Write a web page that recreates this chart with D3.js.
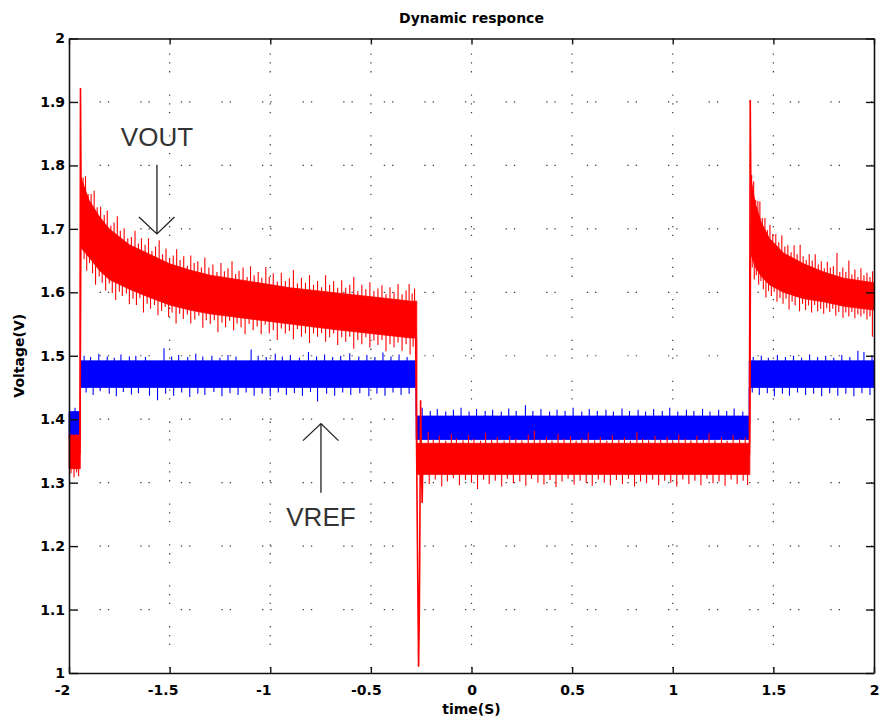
<!DOCTYPE html>
<html><head><meta charset="utf-8">
<script src="https://cdn.jsdelivr.net/npm/d3@7"></script>
<style>body{margin:0;background:#fff}</style>
</head><body>
<svg id="c" width="882" height="722"></svg>
<script>
// ---------- tick labels ----------
const xTicks = [-2, -1.5, -1, -0.5, 0, 0.5, 1, 1.5, 2];
const xTickLabels = ["-2", "-1.5", "-1", "-0.5", "0", "0.5", "1", "1.5", "2"];
const yTicks = [1, 1.1, 1.2, 1.3, 1.4, 1.5, 1.6, 1.7, 1.8, 1.9, 2];
const yTickLabels = ["1", "1.1", "1.2", "1.3", "1.4", "1.5", "1.6", "1.7", "1.8", "1.9", "2"];

// ---------- VREF (blue): noise band envelope ----------
const vrefT  = [-2, -1.943, -1.943, -0.275, -0.275, 1.380, 1.380, 2];
const vrefLo = [1.370, 1.370, 1.450, 1.450, 1.368, 1.368, 1.450, 1.450];
const vrefHi = [1.412, 1.412, 1.492, 1.492, 1.405, 1.405, 1.492, 1.492];
// VREF noise spikes [time, voltage]
const vrefSpikes = [
  [-1.97,1.418],
  [-1.925,1.500],[-1.893,1.498],[-1.852,1.503],[-1.81,1.499],[-1.775,1.497],[-1.742,1.502],[-1.70,1.499],[-1.668,1.500],[-1.62,1.498],[-1.528,1.512],[-1.49,1.499],[-1.455,1.501],[-1.41,1.498],[-1.37,1.503],[-1.335,1.499],[-1.29,1.500],[-1.25,1.497],[-1.21,1.501],[-1.17,1.499],[-1.095,1.510],[-1.06,1.500],[-1.02,1.498],[-0.975,1.503],[-0.94,1.499],[-0.9,1.501],[-0.855,1.497],[-0.81,1.506],[-0.77,1.499],[-0.73,1.502],[-0.69,1.498],[-0.65,1.500],[-0.605,1.504],[-0.56,1.499],[-0.52,1.501],[-0.48,1.498],[-0.44,1.505],[-0.40,1.499],[-0.36,1.502],[-0.32,1.498],
  [-1.915,1.442],[-1.88,1.438],[-1.845,1.444],[-1.80,1.440],[-1.765,1.436],[-1.73,1.443],[-1.69,1.439],[-1.655,1.441],[-1.60,1.437],[-1.56,1.430],[-1.52,1.440],[-1.48,1.437],[-1.44,1.442],[-1.40,1.435],[-1.36,1.440],[-1.325,1.438],[-1.28,1.443],[-1.24,1.436],[-1.20,1.441],[-1.16,1.438],[-1.12,1.442],[-1.08,1.437],[-1.04,1.440],[-1.0,1.436],[-0.96,1.442],[-0.92,1.438],[-0.88,1.441],[-0.84,1.437],[-0.80,1.443],[-0.765,1.428],[-0.72,1.440],[-0.68,1.437],[-0.64,1.442],[-0.60,1.438],[-0.555,1.441],[-0.51,1.436],[-0.47,1.440],[-0.43,1.437],[-0.39,1.442],[-0.35,1.438],[-0.31,1.440],
  [-0.245,1.418],[-0.205,1.413],[-0.17,1.416],[-0.128,1.412],[-0.09,1.415],[-0.052,1.418],[-0.012,1.412],[0.025,1.416],[0.068,1.413],[0.105,1.415],[0.148,1.412],[0.185,1.417],[0.222,1.413],[0.268,1.422],[0.305,1.413],[0.345,1.416],[0.388,1.412],[0.425,1.415],[0.465,1.413],[0.505,1.418],[0.548,1.412],[0.585,1.416],[0.625,1.413],[0.668,1.415],[0.705,1.412],[0.748,1.417],[0.785,1.413],[0.828,1.415],[0.865,1.412],[0.905,1.416],[0.948,1.413],[0.985,1.418],[1.025,1.412],[1.068,1.415],[1.105,1.413],[1.148,1.416],[1.185,1.412],[1.228,1.415],[1.268,1.413],[1.305,1.417],[1.348,1.412],
  [1.40,1.498],[1.44,1.500],[1.475,1.497],[1.52,1.501],[1.56,1.498],[1.60,1.500],[1.64,1.497],[1.68,1.502],[1.72,1.498],[1.76,1.500],[1.80,1.497],[1.84,1.501],[1.88,1.498],[1.92,1.508],[1.95,1.506],[1.99,1.499],
  [1.395,1.442],[1.43,1.438],[1.47,1.441],[1.505,1.436],[1.545,1.440],[1.58,1.437],[1.62,1.442],[1.66,1.438],[1.70,1.440],[1.74,1.436],[1.78,1.441],[1.82,1.437],[1.86,1.440],[1.90,1.436],[1.94,1.441],[1.98,1.438]
];

// ---------- VOUT (red): noise band envelope ----------
const voutT  = [-2, -1.944, -1.940, -1.9, -1.85, -1.8, -1.7, -1.6, -1.5, -1.4, -1.3, -1.1, -0.9, -0.7, -0.5, -0.3, -0.272, -0.272, 1.383, 1.388, 1.41, 1.44, 1.48, 1.55, 1.65, 1.75, 1.85, 2.0];
const voutLo = [1.322, 1.322, 1.67, 1.655, 1.635, 1.62, 1.605, 1.592, 1.58, 1.572, 1.566, 1.558, 1.55, 1.542, 1.535, 1.528, 1.528, 1.313, 1.313, 1.66, 1.64, 1.625, 1.612, 1.60, 1.59, 1.585, 1.578, 1.572];
const voutHi = [1.375, 1.375, 1.78, 1.745, 1.72, 1.70, 1.675, 1.66, 1.645, 1.635, 1.627, 1.617, 1.607, 1.60, 1.593, 1.586, 1.586, 1.362, 1.362, 1.78, 1.74, 1.71, 1.685, 1.662, 1.645, 1.632, 1.622, 1.615];
// VOUT noise spikes [time, voltage]
const voutSpikes = [
  [-1.99,1.315],[-1.975,1.308],[-1.962,1.316],[-1.952,1.310],
  // decay 1, upper edge
  [-1.93,1.781],[-1.918,1.783],[-1.905,1.755],[-1.89,1.755],[-1.875,1.760],[-1.86,1.734],[-1.843,1.735],[-1.825,1.722],[-1.81,1.729],[-1.792,1.705],[-1.776,1.710],[-1.76,1.720],[-1.745,1.697],[-1.726,1.701],[-1.708,1.685],[-1.69,1.687],[-1.672,1.697],[-1.655,1.677],[-1.64,1.685],[-1.622,1.675],[-1.605,1.685],[-1.588,1.665],[-1.57,1.672],[-1.552,1.682],[-1.535,1.660],[-1.518,1.669],[-1.50,1.653],[-1.482,1.658],[-1.465,1.668],[-1.448,1.651],[-1.43,1.657],[-1.412,1.642],[-1.395,1.658],[-1.378,1.646],[-1.36,1.649],[-1.342,1.639],[-1.325,1.655],[-1.305,1.639],[-1.285,1.644],[-1.265,1.632],[-1.245,1.646],[-1.228,1.633],[-1.21,1.638],[-1.19,1.649],[-1.172,1.629],[-1.155,1.634],[-1.135,1.639],[-1.115,1.624],[-1.098,1.641],[-1.08,1.627],[-1.06,1.632],[-1.042,1.623],[-1.022,1.640],[-1.005,1.624],[-0.985,1.630],[-0.965,1.617],[-0.945,1.631],[-0.925,1.618],[-0.905,1.622],[-0.885,1.635],[-0.865,1.614],[-0.845,1.623],[-0.825,1.615],[-0.805,1.627],[-0.785,1.612],[-0.765,1.618],[-0.745,1.608],[-0.725,1.627],[-0.705,1.612],[-0.685,1.618],[-0.665,1.607],[-0.645,1.619],[-0.625,1.607],[-0.605,1.612],[-0.585,1.624],[-0.565,1.602],[-0.545,1.612],[-0.525,1.605],[-0.505,1.616],[-0.485,1.602],[-0.465,1.606],[-0.445,1.611],[-0.425,1.597],[-0.405,1.608],[-0.385,1.600],[-0.365,1.613],[-0.345,1.597],[-0.325,1.603],[-0.31,1.613],[-0.295,1.598],[-0.283,1.606],
  // decay 1, lower edge
  [-1.925,1.652],[-1.912,1.634],[-1.898,1.646],[-1.883,1.630],[-1.868,1.612],[-1.85,1.625],[-1.835,1.615],[-1.818,1.603],[-1.80,1.614],[-1.785,1.599],[-1.768,1.588],[-1.75,1.601],[-1.735,1.594],[-1.715,1.598],[-1.70,1.581],[-1.682,1.590],[-1.665,1.580],[-1.648,1.591],[-1.63,1.568],[-1.612,1.582],[-1.595,1.574],[-1.575,1.580],[-1.558,1.564],[-1.54,1.571],[-1.522,1.577],[-1.505,1.561],[-1.488,1.568],[-1.468,1.551],[-1.45,1.566],[-1.432,1.558],[-1.412,1.565],[-1.395,1.551],[-1.375,1.557],[-1.355,1.563],[-1.335,1.544],[-1.318,1.556],[-1.298,1.550],[-1.278,1.556],[-1.26,1.537],[-1.24,1.552],[-1.222,1.545],[-1.202,1.555],[-1.182,1.540],[-1.165,1.551],[-1.145,1.545],[-1.125,1.534],[-1.105,1.550],[-1.085,1.540],[-1.065,1.546],[-1.045,1.534],[-1.025,1.549],[-1.005,1.535],[-0.985,1.540],[-0.965,1.525],[-0.945,1.543],[-0.925,1.535],[-0.905,1.539],[-0.885,1.526],[-0.865,1.542],[-0.845,1.530],[-0.825,1.535],[-0.805,1.520],[-0.785,1.535],[-0.765,1.530],[-0.745,1.536],[-0.725,1.522],[-0.705,1.529],[-0.685,1.535],[-0.665,1.517],[-0.645,1.529],[-0.625,1.522],[-0.605,1.530],[-0.585,1.511],[-0.565,1.525],[-0.545,1.518],[-0.525,1.529],[-0.505,1.513],[-0.485,1.524],[-0.465,1.517],[-0.445,1.525],[-0.425,1.507],[-0.405,1.518],[-0.385,1.513],[-0.365,1.521],[-0.345,1.508],[-0.325,1.518],[-0.305,1.502],[-0.29,1.514],
  // low state, upper edge
  [-0.215,1.380],[-0.19,1.368],[-0.16,1.374],[-0.128,1.366],[-0.1,1.377],[-0.075,1.370],[-0.042,1.367],[-0.015,1.375],[0.012,1.369],[0.045,1.366],[0.07,1.378],[0.1,1.368],[0.128,1.372],[0.162,1.366],[0.19,1.374],[0.22,1.369],[0.25,1.367],[0.282,1.376],[0.312,1.382],[0.34,1.368],[0.372,1.371],[0.4,1.366],[0.43,1.377],[0.46,1.369],[0.492,1.373],[0.52,1.366],[0.548,1.370],[0.58,1.378],[0.612,1.367],[0.64,1.372],[0.672,1.366],[0.7,1.375],[0.732,1.368],[0.76,1.371],[0.79,1.366],[0.822,1.379],[0.85,1.369],[0.88,1.367],[0.912,1.374],[0.94,1.368],[0.972,1.372],[1.0,1.366],[1.03,1.376],[1.062,1.369],[1.09,1.367],[1.12,1.374],[1.152,1.368],[1.18,1.378],[1.21,1.367],[1.242,1.371],[1.27,1.366],[1.3,1.375],[1.332,1.369],[1.36,1.372],
  // low state, lower edge
  [-0.21,1.298],[-0.18,1.305],[-0.148,1.294],[-0.12,1.302],[-0.09,1.307],[-0.06,1.296],[-0.03,1.304],[0.0,1.300],[0.03,1.290],[0.06,1.305],[0.088,1.298],[0.118,1.303],[0.15,1.294],[0.178,1.306],[0.208,1.299],[0.24,1.302],[0.27,1.295],[0.298,1.306],[0.33,1.300],[0.36,1.297],[0.39,1.304],[0.42,1.293],[0.45,1.302],[0.48,1.306],[0.51,1.297],[0.54,1.303],[0.57,1.299],[0.6,1.295],[0.63,1.305],[0.66,1.300],[0.69,1.296],[0.72,1.304],[0.75,1.298],[0.78,1.306],[0.81,1.294],[0.84,1.302],[0.87,1.299],[0.9,1.305],[0.93,1.296],[0.96,1.303],[0.99,1.300],[1.02,1.294],[1.05,1.305],[1.08,1.298],[1.11,1.303],[1.14,1.296],[1.17,1.306],[1.2,1.299],[1.23,1.302],[1.26,1.295],[1.29,1.305],[1.32,1.298],[1.35,1.303],[1.372,1.296],
  // decay 2, upper edge
  [1.392,1.785],[1.402,1.775],[1.412,1.746],[1.423,1.744],[1.433,1.743],[1.445,1.717],[1.458,1.717],[1.47,1.698],[1.483,1.706],[1.497,1.692],[1.512,1.692],[1.527,1.679],[1.542,1.690],[1.557,1.672],[1.572,1.674],[1.588,1.663],[1.603,1.674],[1.618,1.660],[1.633,1.675],[1.648,1.657],[1.663,1.651],[1.678,1.660],[1.693,1.650],[1.708,1.660],[1.723,1.644],[1.738,1.649],[1.753,1.638],[1.768,1.648],[1.783,1.639],[1.798,1.641],[1.816,1.662],[1.83,1.632],[1.845,1.639],[1.86,1.632],[1.875,1.650],[1.89,1.628],[1.905,1.636],[1.92,1.624],[1.935,1.638],[1.95,1.627],[1.965,1.631],[1.98,1.624],[1.993,1.633],
  // decay 2, lower edge
  [1.395,1.639],[1.405,1.620],[1.415,1.627],[1.427,1.612],[1.438,1.618],[1.45,1.605],[1.463,1.592],[1.476,1.602],[1.49,1.594],[1.504,1.601],[1.518,1.585],[1.533,1.591],[1.548,1.582],[1.563,1.590],[1.578,1.573],[1.593,1.585],[1.608,1.579],[1.63,1.570],[1.645,1.582],[1.66,1.572],[1.675,1.579],[1.69,1.568],[1.705,1.580],[1.72,1.570],[1.735,1.574],[1.75,1.566],[1.765,1.575],[1.78,1.569],[1.795,1.574],[1.81,1.563],[1.825,1.569],[1.846,1.560],[1.86,1.568],[1.875,1.562],[1.89,1.569],[1.905,1.559],[1.92,1.565],[1.935,1.562],[1.95,1.566],[1.965,1.557],[1.98,1.562],[1.992,1.530]
];
// VOUT switching transients [time, voltage]
const voutTransients = [
  [[-1.946,1.345],[-1.943,1.922],[-1.940,1.76]],
  [[-0.278,1.55],[-0.270,1.25],[-0.263,1.010],[-0.259,1.10],[-0.257,1.20],[-0.253,1.43],[-0.249,1.33],[-0.245,1.268],[-0.241,1.35]],
  [[1.381,1.345],[1.385,1.903],[1.388,1.77]]
];

// ---------- annotations ----------
const annoLabels = ["VOUT", "VREF"];
const annoT      = [-1.563, -0.748];
const annoTextV  = [1.831, 1.231];
const annoTailV  = [1.801, 1.284];
const annoHeadV  = [1.692, 1.393];

// ---------- drawing ----------
const svg = d3.select("#c");
const x = d3.scaleLinear().domain([-2, 2]).range([69, 874]);
const y = d3.scaleLinear().domain([1, 2]).range([673, 38.5]);
const FONT = "'DejaVu Sans', Verdana, sans-serif";

// grid
const grid = svg.append("g").attr("fill", "none").attr("stroke", "#3a3a3a").attr("stroke-width", 1.2);
grid.selectAll("line.v").data(xTicks.slice(1, -1)).join("line").attr("class", "v")
  .attr("x1", d => x(d)).attr("x2", d => x(d)).attr("y1", y(2)).attr("y2", y(1))
  .attr("stroke-dasharray", "1.3,7.5,1.3,7.5,1.3,22").attr("stroke-dashoffset", -15);
grid.selectAll("line.h").data(yTicks.slice(1, -1)).join("line").attr("class", "h")
  .attr("y1", d => y(d)).attr("y2", d => y(d)).attr("x1", x(-2)).attr("x2", x(2))
  .attr("stroke-dasharray", "1.3,7,1.3,31").attr("stroke-dashoffset", 10);

function bandMid(T, Lo, Hi, t) {
  let i = Math.max(0, Math.min(T.length - 2, d3.bisectRight(T, t) - 1));
  const j = i + 1;
  const f = T[j] === T[i] ? 0 : (t - T[i]) / (T[j] - T[i]);
  return ((Lo[i] + (Lo[j] - Lo[i]) * f) + (Hi[i] + (Hi[j] - Hi[i]) * f)) / 2;
}

function drawSeries(T, Lo, Hi, spikes, color) {
  const g = svg.append("g");
  const area = d3.area().x(i => x(T[i])).y0(i => y(Lo[i])).y1(i => y(Hi[i]));
  g.append("path").attr("d", area(d3.range(T.length))).attr("fill", color).attr("stroke", color).attr("stroke-width", 0.8);
  const p = spikes.map(([t, v]) => `M${x(t)},${y(bandMid(T, Lo, Hi, t))}V${y(v)}`).join("");
  g.append("path").attr("d", p).attr("stroke", color).attr("stroke-width", 1.1).attr("fill", "none");
  return g;
}

drawSeries(vrefT, vrefLo, vrefHi, vrefSpikes, "#0000ff");
const gr = drawSeries(voutT, voutLo, voutHi, voutSpikes, "#ff0000");
const line = d3.line().x(d => x(d[0])).y(d => y(d[1]));
gr.selectAll("path.tr").data(voutTransients).join("path").attr("class", "tr")
  .attr("d", line).attr("fill", "none").attr("stroke", "#ff0000").attr("stroke-width", 1.6);

// axes
function styleAxis(g) {
  g.attr("font-family", FONT).attr("font-size", 14).attr("font-weight", "bold");
  g.selectAll("path.domain").attr("stroke", "#111").attr("stroke-width", 1.6);
  g.selectAll(".tick line").attr("stroke", "#111").attr("stroke-width", 1.4);
  g.selectAll("text").attr("fill", "#000");
}
svg.append("g").attr("transform", `translate(0,${y(1)})`)
  .call(d3.axisBottom(x).tickValues(xTicks).tickFormat((d, i) => xTickLabels[i]).tickSizeInner(-6).tickSizeOuter(0).tickPadding(12))
  .call(styleAxis)
  .selectAll("text").attr("dx", d => d < 0 ? (d === -0.5 ? -5 : -7) : 0);
svg.append("g").attr("transform", `translate(0,${y(2)})`)
  .call(d3.axisTop(x).tickValues(xTicks).tickFormat("").tickSizeInner(-6).tickSizeOuter(0))
  .call(styleAxis);
svg.append("g").attr("transform", `translate(${x(-2)},0)`)
  .call(d3.axisLeft(y).tickValues(yTicks).tickFormat((d, i) => yTickLabels[i]).tickSizeInner(-9).tickSizeOuter(0).tickPadding(4))
  .call(styleAxis);
svg.append("g").attr("transform", `translate(${x(2)},0)`)
  .call(d3.axisRight(y).tickValues(yTicks).tickFormat("").tickSizeInner(-8).tickSizeOuter(0))
  .call(styleAxis);

// titles
svg.append("text").attr("x", (x(-2) + x(2)) / 2).attr("y", 23).attr("text-anchor", "middle")
  .attr("font-family", FONT).attr("font-size", 14).attr("font-weight", "bold").text("Dynamic responce");
svg.append("text").attr("x", (x(-2) + x(2)) / 2).attr("y", 714).attr("text-anchor", "middle")
  .attr("font-family", FONT).attr("font-size", 14).attr("font-weight", "bold").text("time(S)");
svg.append("text").attr("transform", `translate(24,${(y(1) + y(2)) / 2}) rotate(-90)`).attr("text-anchor", "middle")
  .attr("font-family", FONT).attr("font-size", 14).attr("font-weight", "bold").text("Voltage(V)");

// annotations
const ann = svg.append("g");
annoLabels.forEach((lab, i) => {
  const ax = x(annoT[i]), yTail = y(annoTailV[i]), yHead = y(annoHeadV[i]);
  const dir = yHead > yTail ? 1 : -1;
  ann.append("text").attr("x", ax).attr("y", y(annoTextV[i])).attr("text-anchor", "middle")
    .attr("font-family", "'Liberation Sans', Arial, sans-serif").attr("font-size", 26).attr("fill", "#333").text(lab);
  ann.append("path")
    .attr("d", `M${ax},${yTail}V${yHead}M${ax - 18},${yHead - dir * 17}L${ax},${yHead}L${ax + 17.5},${yHead - dir * 17}`)
    .attr("fill", "none").attr("stroke", "#222").attr("stroke-width", 1.3);
});
</script>
</body></html>
